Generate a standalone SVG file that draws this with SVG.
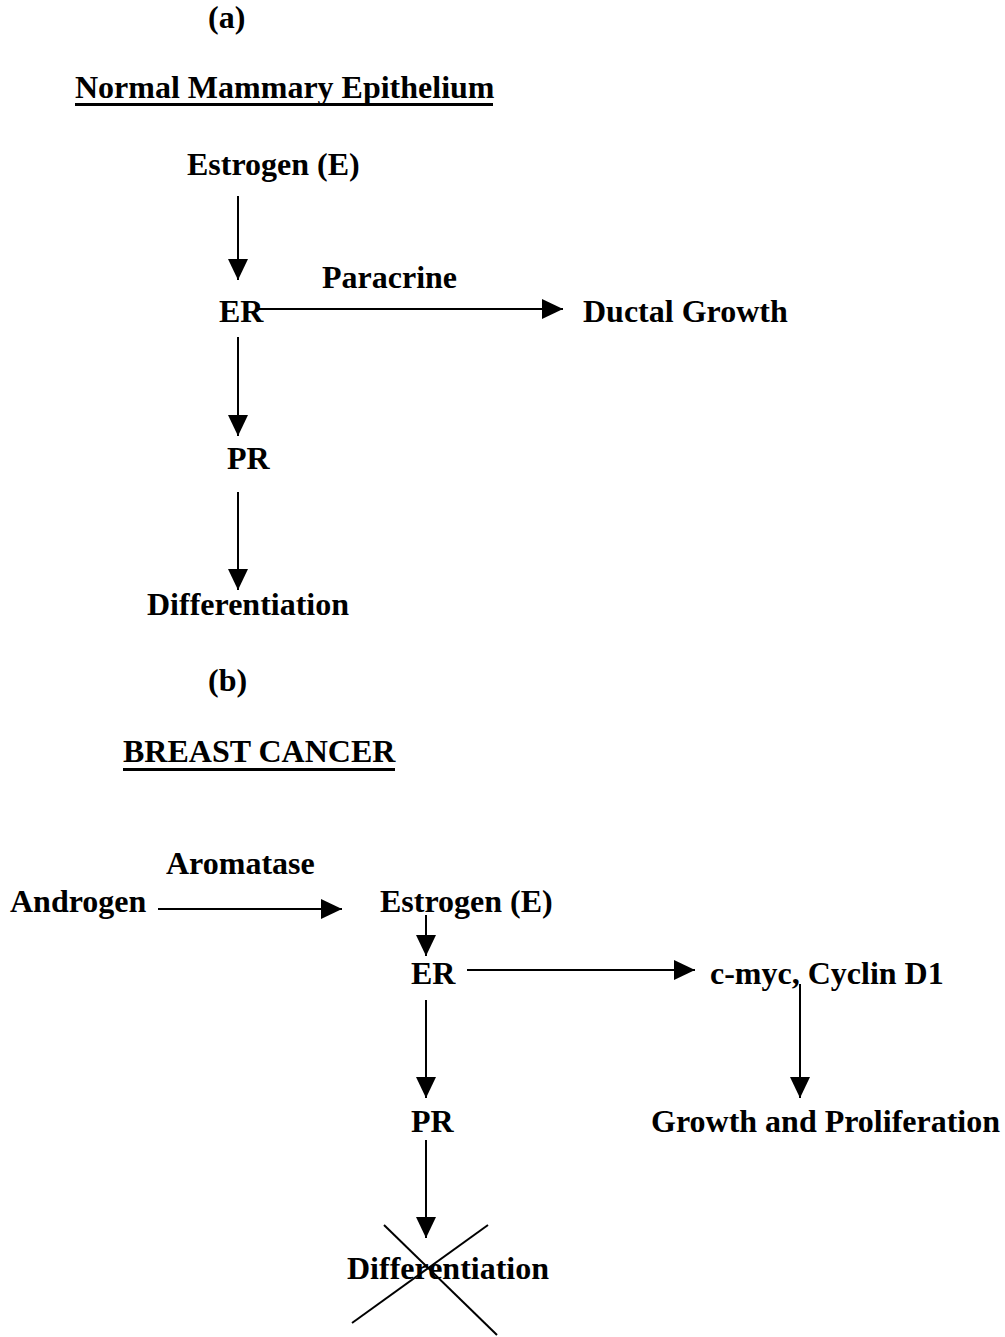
<svg xmlns="http://www.w3.org/2000/svg" width="1005" height="1337" viewBox="0 0 1005 1337">
<style>
text{font-family:"Liberation Serif","Times New Roman",serif;font-weight:bold;font-size:32px;fill:#000}
.ln{stroke:#000;stroke-width:2;fill:none}
.ul{stroke:#000;stroke-width:3;fill:none}
.ar{stroke:#000;stroke-width:2;fill:none;marker-end:url(#ah)}
</style>
<defs>
<marker id="ah" markerUnits="userSpaceOnUse" markerWidth="22" markerHeight="22" refX="21" refY="10" orient="auto">
<path d="M0,0 L21,10 L0,20 Z" fill="#000"/>
</marker>
</defs>
<rect width="1005" height="1337" fill="#fff"/>
<g id="labels">
<text x="208" y="28">(a)</text>
<text x="75" y="98">Normal Mammary Epithelium</text>
<line class="ul" x1="75" y1="104.5" x2="493" y2="104.5"/>
<text x="208" y="691">(b)</text>
<text x="123" y="762">BREAST CANCER</text>
<line class="ul" x1="123" y1="769.5" x2="395" y2="769.5"/>
</g>
<g id="nodeA_estrogen"><text x="187" y="175">Estrogen (E)</text></g>
<g id="nodeA_er"><text x="219" y="322">ER</text></g>
<g id="nodeA_ductal"><text x="583" y="322">Ductal Growth</text></g>
<g id="nodeA_pr"><text x="227" y="469">PR</text></g>
<g id="nodeA_diff"><text x="147" y="615">Differentiation</text></g>
<g id="nodeB_androgen"><text x="10" y="912">Androgen</text></g>
<g id="nodeB_estrogen"><text x="380" y="912">Estrogen (E)</text></g>
<g id="nodeB_er"><text x="411" y="984">ER</text></g>
<g id="nodeB_myc"><text x="710" y="984">c-myc, Cyclin D1</text></g>
<g id="nodeB_pr"><text x="411" y="1132">PR</text></g>
<g id="nodeB_growth"><text x="651" y="1132">Growth and Proliferation</text></g>
<g id="nodeB_diff"><text x="347" y="1279">Differentiation</text></g>
<g id="connectors">
<line class="ar" x1="238" y1="196" x2="238" y2="280"/>
<line class="ar" x1="258" y1="309" x2="563" y2="309"/>
<text x="322" y="288">Paracrine</text>
<line class="ar" x1="238" y1="337" x2="238" y2="436"/>
<line class="ar" x1="238" y1="492" x2="238" y2="590"/>
<line class="ar" x1="158" y1="909" x2="342" y2="909"/>
<text x="166" y="874">Aromatase</text>
<line class="ar" x1="426" y1="915" x2="426" y2="956"/>
<line class="ar" x1="467" y1="970" x2="695" y2="970"/>
<line class="ar" x1="800" y1="984" x2="800" y2="1098"/>
<line class="ar" x1="426" y1="1000" x2="426" y2="1098"/>
<line class="ar" x1="426" y1="1140" x2="426" y2="1238"/>
<line class="ln" x1="384" y1="1225" x2="497" y2="1335"/>
<line class="ln" x1="488" y1="1225" x2="352" y2="1323"/>
</g>
</svg>
